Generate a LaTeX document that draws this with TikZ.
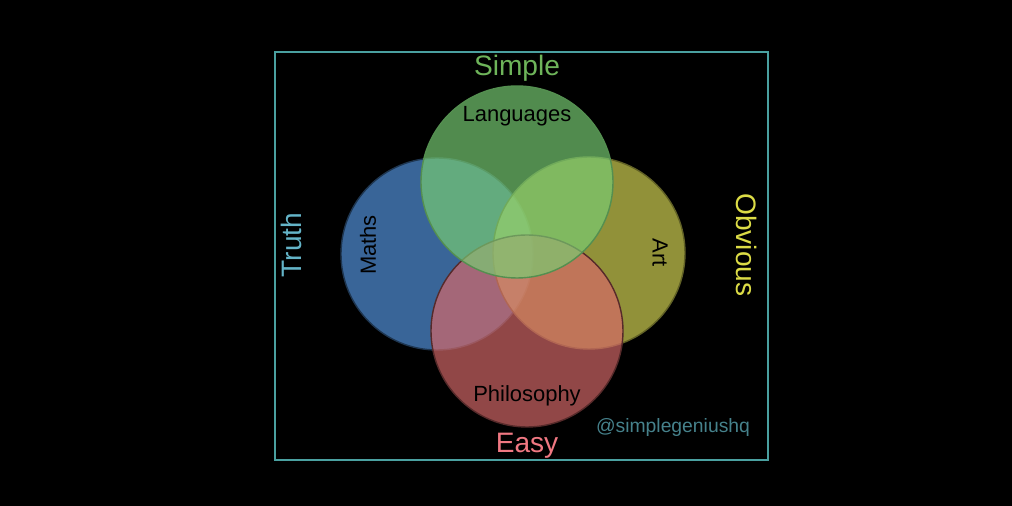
\documentclass[tikz,border=0pt]{standalone}
\usepackage{fontspec}
\setmainfont{Liberation Sans}
\begin{document}
\begin{tikzpicture}[x=0.02cm,y=-0.02cm,
  venn/.style={circle,minimum size=192*0.02cm,inner sep=0pt,fill opacity=0.68,line width=0.8pt},
  lab/.style={font=\fontsize{12.5}{14}\selectfont,text=black},
  big/.style={font=\fontsize{16}{18}\selectfont}]
\fill[black] (0,0) rectangle (1012,506);
\useasboundingbox (0,0) rectangle (1012,506);
\draw[color={rgb,255:red,74;green,160;blue,160},line width=1pt] (275,52) rectangle (768,460);
\definecolor{cg}{RGB}{120,205,115}
\definecolor{cb}{RGB}{85,150,225}
\definecolor{cy}{RGB}{215,215,85}
\definecolor{cr}{RGB}{215,105,105}
\node[venn,fill=cb,draw=cb!35!black] (m) at (437,254) {};
\node[venn,fill=cy,draw=cy!45!black] (a) at (589,253) {};
\node[venn,fill=cr,draw=cr!40!black] (p) at (527,331) {};
\node[venn,fill=cg,draw=cg!70!black] (l) at (517,182) {};
\node[lab] (tl) at (517,116) {Languages};
\node[lab,rotate=90] (tm) at (368,245) {Maths};
\node[lab,rotate=-90] (ta) at (660,253) {Art};
\node[lab] (tp) at (527,396) {Philosophy};
\node[big,text={rgb,255:red,110;green,180;blue,90}] (s) at (517,68) {Simple};
\node[big,text={rgb,255:red,240;green,120;blue,130}] (e) at (527,446) {Easy};
\node[big,rotate=90,text={rgb,255:red,100;green,180;blue,200}] (t) at (291,245) {Truth};
\node[big,rotate=-90,text={rgb,255:red,220;green,220;blue,70}] (o) at (747,245) {Obvious};
\node[font=\fontsize{11}{13}\selectfont,text={rgb,255:red,70;green,130;blue,140}] (h) at (673,428) {@simplegeniushq};
\end{tikzpicture}
\end{document}
